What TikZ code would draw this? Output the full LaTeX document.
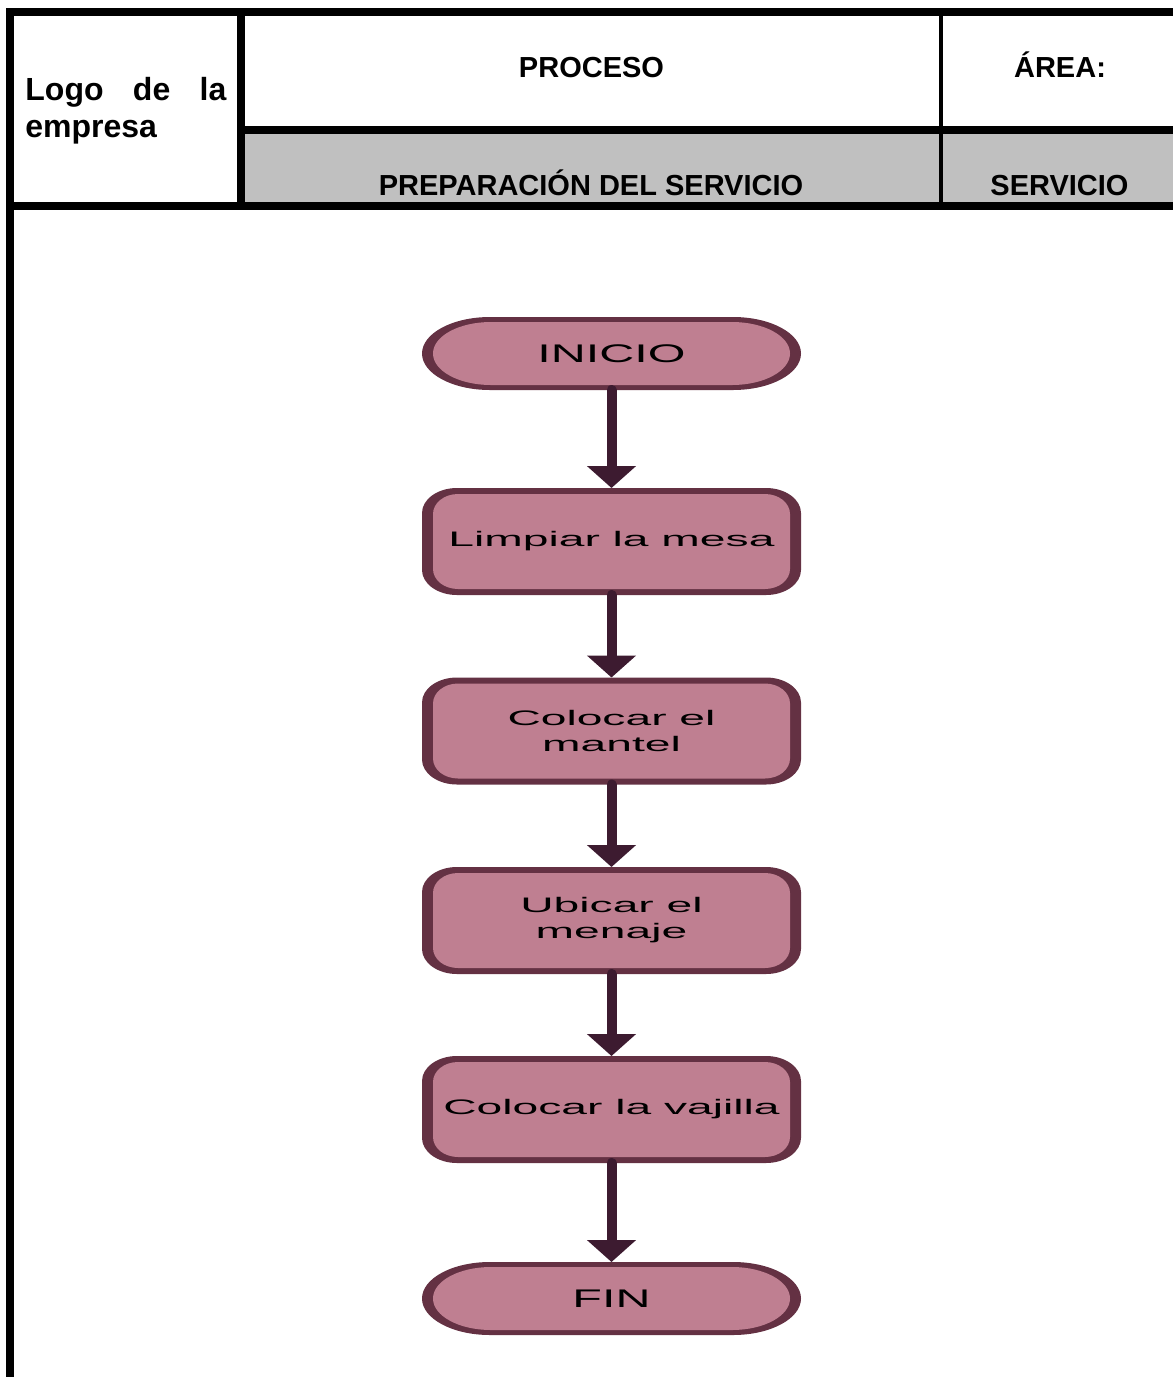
\documentclass[tikz,border=0pt]{standalone}
\usepackage{fontspec}
\setmainfont{Liberation Sans}
\newfontfamily\boxfont[FakeStretch=2.2]{Liberation Sans}
\newfontfamily\termfont[FakeStretch=1.9]{Liberation Sans}
\usetikzlibrary{arrows.meta}

\definecolor{boxfill}{RGB}{191,127,145}
\definecolor{boxedge}{RGB}{100,49,67}
\definecolor{arrowcol}{RGB}{61,27,48}
\definecolor{headgray}{RGB}{192,192,192}

% rectangle with elliptical corners, centred on the origin:
% half width, half height, corner x radius, corner y radius
\newcommand\capsulepath[4]{%
  ({-(#1)+(#3)},{-(#2)}) -- ({(#1)-(#3)},{-(#2)})
  arc[start angle=-90,end angle=0,x radius={#3},y radius={#4}]
  -- ({#1},{(#2)-(#4)})
  arc[start angle=0,end angle=90,x radius={#3},y radius={#4}]
  -- ({-(#1)+(#3)},{#2})
  arc[start angle=90,end angle=180,x radius={#3},y radius={#4}]
  -- ({-(#1)},{-(#2)+(#4)})
  arc[start angle=180,end angle=270,x radius={#3},y radius={#4}]
  -- cycle}

% dark rim and light face of a flow-chart box, sizes in pt, around a coordinate
\newcommand\plate[9]{%
  \begin{scope}[shift={(#1)}, x=1pt, y=1pt]
    \fill[boxedge] \capsulepath{#2}{#3}{#4}{#5};
    \fill[boxfill] \capsulepath{#6}{#7}{#8}{#9};
  \end{scope}}
\newcommand\stepplate[1]{\plate{#1}{94.75}{26.75}{17.5}{12.5}{89.25}{23.75}{12.5}{10}}
\newcommand\termplate[1]{\plate{#1}{94.75}{18.25}{34}{18.25}{89.25}{15.75}{29}{15.75}}

\tikzset{
  frameline/.style={line width=4pt, black},
  thinrule/.style={line width=1.7pt, black},
  headtext/.style={font=\bfseries\fontsize{14.5}{17}\selectfont, inner sep=0pt, anchor=base},
  logotext/.style={font=\bfseries\fontsize{16}{18.5}\selectfont, inner sep=0pt, anchor=base west},
  stepbox/.style={rectangle, inner sep=0pt, outer sep=0pt,
    minimum width=189.5pt, minimum height=53.5pt,
    font=\boxfont\fontsize{10.5}{13}\selectfont, align=center},
  termbox/.style={rectangle, inner sep=0pt, outer sep=0pt,
    minimum width=189.5pt, minimum height=36.5pt,
    font=\termfont\fontsize{12.75}{15}\selectfont},
  link/.style={line width=5pt, arrowcol, line cap=round,
    -{Triangle[width=24pt,length=11pt]}},
}

\begin{document}
\begin{tikzpicture}[x=0.5pt, y=-0.5pt]
\useasboundingbox (0,0) rectangle (1173,1377);

% header block
\fill[headgray] (245,134) rectangle (1173,202);
\draw[frameline] (1173,12) -- (10,12) -- (10,1377);
\draw[frameline] (10,206) -- (1173,206);
\draw[frameline] (241,12) -- (241,206);
\draw[frameline] (241,130) -- (1173,130);
\draw[thinrule] (941,12) -- (941,206);

\node[logotext] (logo1) at (25,100) {\makebox[100.5pt][s]{Logo de la}};
\node[logotext] (logo2) at (25,137) {empresa};
\node[headtext] (proc) at (591.5,77) {PROCESO};
\node[headtext] (area) at (1060,77) {ÁREA:};
\node[headtext] (procname) at (591,195) {PREPARACIÓN DEL SERVICIO};
\node[headtext] (areaname) at (1059.5,195) {SERVICIO};

% flow chart
\coordinate (p1) at (611.5,353.5);
\coordinate (p2) at (611.5,541.5);
\coordinate (p3) at (611.5,731);
\coordinate (p4) at (611.5,920.5);
\coordinate (p5) at (611.5,1109.5);
\coordinate (p6) at (611.5,1298.5);

\termplate{p1}
\stepplate{p2}
\stepplate{p3}
\stepplate{p4}
\stepplate{p5}
\termplate{p6}

\node[termbox] (start) at (p1) {INICIO};
\node[stepbox] (clean) at (p2) {Limpiar la mesa};
\node[stepbox] (cloth) at (p3) {Colocar el\\mantel};
\node[stepbox] (ware)  at (p4) {Ubicar el\\menaje};
\node[stepbox] (dish)  at (p5) {Colocar la vajilla};
\node[termbox] (stop)  at (p6) {FIN};

\draw[link] (start.south) -- (clean.north);
\draw[link] (clean.south) -- (cloth.north);
\draw[link] (cloth.south) -- (ware.north);
\draw[link] (ware.south) -- (dish.north);
\draw[link] (dish.south) -- (stop.north);
\end{tikzpicture}
\end{document}
